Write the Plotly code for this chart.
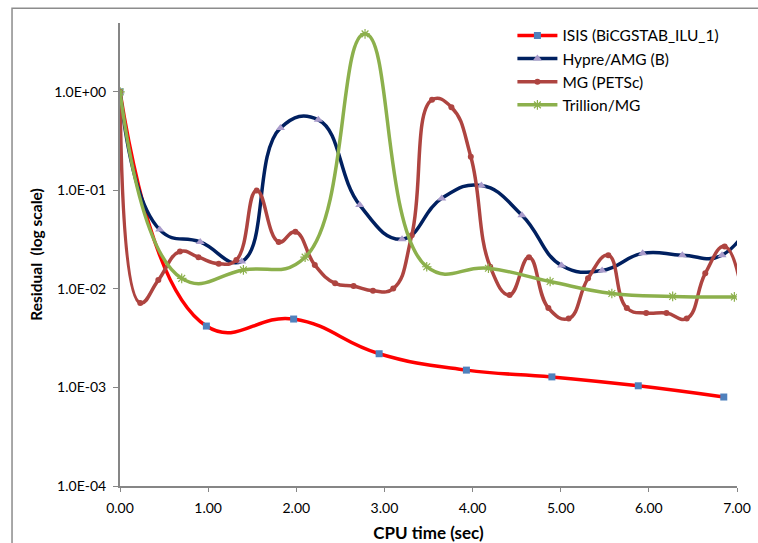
import plotly.graph_objects as go

# ---- data ----
isis_x = [0.0, 0.98, 1.97, 2.94, 3.93, 4.90, 5.88, 6.85]
isis_y = [1.0, 0.0042, 0.00495, 0.0022, 0.0015, 0.00128, 0.00104, 0.00080]

hypre_x = [0.0, 0.45, 0.91, 1.38, 1.82, 2.25, 2.72, 3.20, 3.65, 4.10, 4.56,
           5.01, 5.47, 5.93, 6.38, 6.83, 7.28]
hypre_y = [1.0, 0.040, 0.030, 0.019, 0.43, 0.52, 0.071, 0.032, 0.083, 0.112,
           0.056, 0.0173, 0.0154, 0.023, 0.022, 0.022, 0.08]

mg_x = [0.0, 0.23, 0.435, 0.68, 0.89, 1.12, 1.32, 1.55, 1.80, 1.99, 2.21,
        2.44, 2.65, 2.87, 3.10, 3.31, 3.54, 3.76, 3.98, 4.20, 4.42, 4.64,
        4.86, 5.09, 5.31, 5.54, 5.75, 5.97, 6.20, 6.43, 6.64, 6.86, 7.08]
mg_y = [1.0, 0.0072, 0.0123, 0.024, 0.021, 0.018, 0.0197, 0.10, 0.030, 0.038,
        0.0175, 0.0114, 0.0107, 0.0096, 0.0101, 0.035, 0.83, 0.70, 0.22,
        0.0168, 0.0087, 0.021, 0.0064, 0.0050, 0.0128, 0.022, 0.0064, 0.0057,
        0.0057, 0.0050, 0.0144, 0.027, 0.007]

tril_x = [0.0, 0.70, 1.40, 2.10, 2.78, 3.48, 4.18, 4.88, 5.58, 6.27, 6.97]
tril_y = [1.0, 0.0128, 0.0156, 0.021, 3.88, 0.0168, 0.0162, 0.0119, 0.0090,
          0.0084, 0.0083]

x_ticks = [0, 1, 2, 3, 4, 5, 6, 7]
x_ticktext = ["0.00", "1.00", "2.00", "3.00", "4.00", "5.00", "6.00", "7.00"]
y_ticks = [1e-4, 1e-3, 1e-2, 1e-1, 1e0]
y_ticktext = ["1.0E-04", "1.0E-03", "1.0E-02", "1.0E-01", "1.0E+00"]

FONT = "Lato, 'Open Sans', sans-serif"
SMOOTH = 1.3

fig = go.Figure()

fig.add_trace(go.Scatter(
    x=isis_x, y=isis_y, name="ISIS (BiCGSTAB_ILU_1)", mode="lines+markers",
    line=dict(color="#FF0000", width=3.5, shape="spline", smoothing=SMOOTH),
    marker=dict(symbol="square", size=7, color="#4F81BD"),
))
fig.add_trace(go.Scatter(
    x=hypre_x, y=hypre_y, name="Hypre/AMG (B)", mode="lines+markers",
    line=dict(color="#002060", width=3.5, shape="spline", smoothing=SMOOTH),
    marker=dict(symbol="triangle-up", size=8, color="#A99BCB"),
))
fig.add_trace(go.Scatter(
    x=mg_x, y=mg_y, name="MG (PETSc)", mode="lines+markers",
    line=dict(color="#AE4440", width=3.5, shape="spline", smoothing=SMOOTH),
    marker=dict(symbol="circle", size=6, color="#AE4440"),
))
fig.add_trace(go.Scatter(
    x=tril_x, y=tril_y, name="Trillion/MG", mode="lines+markers",
    line=dict(color="#8CB04C", width=3.5, shape="spline", smoothing=SMOOTH),
    marker=dict(symbol="asterisk", size=8, color="#8CB04C",
                line=dict(color="#8CB04C", width=1.2)),
))

fig.update_layout(
    width=758, height=543,
    margin=dict(l=120, r=21, t=23, b=57, autoexpand=False),
    paper_bgcolor="white", plot_bgcolor="white",
    font=dict(family=FONT, size=14, color="#000000"),
    showlegend=True,
    legend=dict(x=0.636, y=1.009, xanchor="left", yanchor="top",
                bgcolor="rgba(0,0,0,0)", font=dict(size=15.5, family=FONT),
                tracegroupgap=0, itemwidth=40),
    xaxis=dict(range=[0, 7], tickvals=x_ticks, ticktext=x_ticktext,
               automargin=False, ticklabelstandoff=4,
               showgrid=False, zeroline=False, showline=True,
               linecolor="#868686", linewidth=2, ticks="outside",
               ticklen=4, tickcolor="#868686", tickwidth=1,
               title=dict(text="<b>CPU time (sec)</b>", font=dict(size=17),
                          standoff=12)),
    yaxis=dict(type="log", range=[-4, 0.699], tickvals=y_ticks,
               automargin=False, ticklabelstandoff=4,
               ticktext=y_ticktext, showgrid=False, zeroline=False,
               showline=True, linecolor="#868686", linewidth=2,
               ticks="outside", ticklen=5, tickcolor="#868686", tickwidth=1,
               title=dict(text="<b>Residual  (log scale)</b>",
                          font=dict(size=15.5), standoff=8)),
    shapes=[dict(type="rect", xref="paper", yref="paper",
                 x0=-0.175, x1=1.2, y0=-0.3, y1=1.032,
                 line=dict(color="#8C8C8C", width=1.5),
                 fillcolor="rgba(0,0,0,0)", layer="below")],
)

fig.write_html("out.html")
